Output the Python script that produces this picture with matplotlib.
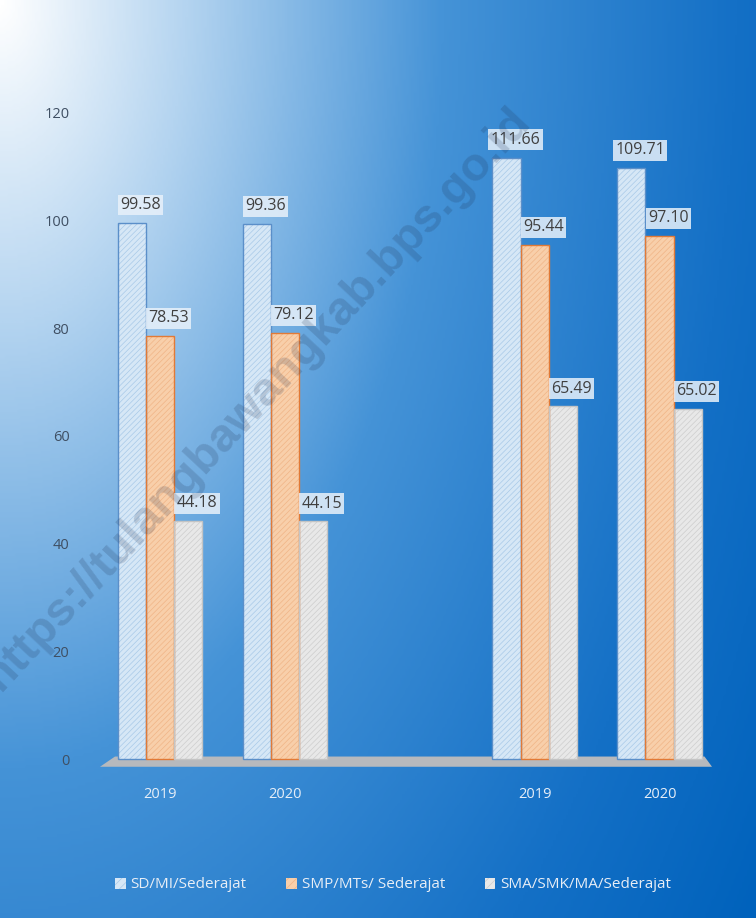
import numpy as np
import matplotlib
matplotlib.use("Agg")
import matplotlib.pyplot as plt
from matplotlib.colors import LinearSegmentedColormap
from matplotlib.patches import Polygon

# data
years = ["2019", "2020", "2019", "2020"]
xpos = [0, 1, 3, 4]
sd = [99.58, 99.36, 111.66, 109.71]
smp = [78.53, 79.12, 95.44, 97.10]
sma = [44.18, 44.15, 65.49, 65.02]
series_names = ["SD/MI/Sederajat", "SMP/MTs/ Sederajat", "SMA/SMK/MA/Sederajat"]
yticks = [0, 20, 40, 60, 80, 100, 120]

plt.rcParams['font.family'] = ['Open Sans', 'DejaVu Sans']
plt.rcParams['hatch.linewidth'] = 0.5

W, H = 756, 918
fig = plt.figure(figsize=(W / 100, H / 100), dpi=100)

# background gradient, light at top-left going to deep blue
bg = fig.add_axes([0, 0, 1, 1], zorder=-10)
yy, xx = np.mgrid[0:1:300j, 0:1:300j]
d = np.sqrt((xx * 1.0) ** 2 + (yy * 0.7) ** 2) / 1.22
cmap = LinearSegmentedColormap.from_list(
    "bgblue", [(0, "#ffffff"), (0.2, "#b4d4f0"), (0.48, "#4593d7"),
               (0.8, "#1470c6"), (1, "#0062bc")])
bg.imshow(d, cmap=cmap, vmin=0, vmax=1, aspect="auto", extent=[0, 1, 0, 1],
          origin="upper", interpolation="bilinear")
bg.set_axis_off()

ax = fig.add_axes([100 / W, 1 - 770 / H, 612 / W, 680 / H])
ax.set_facecolor("none")
ax.set_xlim(-0.48, 4.42)
ax.set_ylim(-2, 124.2)

# floor of the plot
floor = Polygon([(-0.48, -1.4), (4.42, -1.4), (4.36, 0.5), (-0.36, 0.5)],
                closed=True, facecolor="#b7b9bd", edgecolor="none", zorder=1)
ax.add_patch(floor)

bw = 0.225
styles = [
    ("#d6e7f6", "#a8c9e8", "#5b8fc9"),
    ("#f8cfaa", "#f0b486", "#e27a36"),
    ("#e8e8e8", "#cdcdcd", "#c4c4c4"),
]
x = np.array(xpos, dtype=float)
for i, (vals, (fc, hc, ec)) in enumerate(zip([sd, smp, sma], styles)):
    xs = x + (i - 1) * bw
    ax.bar(xs, vals, bw, color=fc, edgecolor=hc, hatch="//////", linewidth=0, zorder=2)
    ax.bar(xs, vals, bw, color="none", edgecolor=ec, linewidth=1.0, zorder=3)
    for xi, v in zip(xs, vals):
        ax.text(xi + 0.07, v + 1.8, f"{v:.2f}", ha="center", va="bottom",
                fontsize=11.5, color="#404040", zorder=5,
                bbox=dict(boxstyle="square,pad=0.15", facecolor="#e8f1fa",
                          edgecolor="none", alpha=0.85))

ax.set_yticks(yticks)
ax.set_yticklabels([str(t) for t in yticks], fontsize=10.5, color="#3f4f63")
ax.set_xticks(xpos)
ax.set_xticklabels(years, fontsize=10.5, color="#e6eef8")
ax.tick_params(axis="both", length=0)
ax.tick_params(axis="y", pad=22)
ax.tick_params(axis="x", pad=12)
for s in ax.spines.values():
    s.set_visible(False)

# legend
handles = [plt.Rectangle((0, 0), 1, 1, facecolor=fc, edgecolor=hc, hatch="////", linewidth=0)
           for fc, hc, ec in styles]
fig.legend(handles, series_names, loc="center", bbox_to_anchor=(0.52, 1 - 885 / H),
           ncol=3, frameon=False, fontsize=11, labelcolor="#e8eef6",
           handlelength=0.7, handleheight=0.7, handletextpad=0.3, columnspacing=2.6)

# diagonal site watermark over the whole page
fig.text(523 / W, 1 - 114 / H, "https://tulangbawangkab.bps.go.id", rotation=47,
         rotation_mode="anchor", ha="right", va="center", fontsize=34,
         fontweight="bold", color="#1c2b4a", alpha=0.18, family="Liberation Sans",
         zorder=20)

fig.savefig("out.png", dpi=100)
